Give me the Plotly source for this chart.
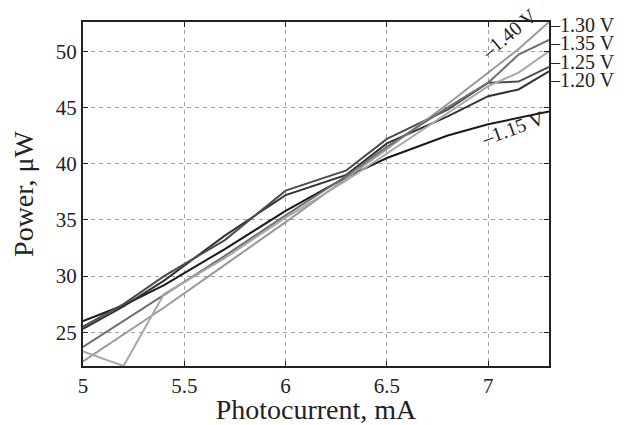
import plotly.graph_objects as go

# Photocurrent (mA) sample points
current = [5.0, 5.2, 5.4, 5.7, 6.0, 6.3, 6.5, 6.8, 7.0, 7.15, 7.3]

# Optical power (uW) for each bias voltage
p_115 = [26.0, 27.4, 29.2, 32.4, 35.8, 38.8, 40.5, 42.5, 43.5, 44.1, 44.65]
p_120 = [25.3, 27.3, 29.6, 33.6, 37.2, 39.0, 41.8, 44.2, 46.0, 46.6, 48.2]
p_125 = [25.5, 27.5, 30.0, 33.2, 37.6, 39.4, 42.2, 44.8, 47.2, 47.3, 48.6]
p_130 = [22.4, 24.8, 27.2, 31.0, 34.8, 38.7, 41.3, 45.3, 48.1, 50.2, 52.6]
p_135 = [23.7, 26.0, 28.3, 31.8, 35.4, 38.9, 41.5, 45.0, 47.2, 49.7, 51.0]
p_140 = [23.3, 22.0, 28.4, 31.6, 35.2, 38.5, 40.9, 44.5, 46.9, 48.1, 50.0]

series_names = ["1.15 V", "1.20 V", "1.25 V", "1.30 V", "1.35 V", "1.40 V"]
series_values = [p_115, p_120, p_125, p_130, p_135, p_140]
series_colors = ["#1a1a1a", "#333333", "#4d4d4d", "#999999", "#6e6e6e", "#a8a8a8"]

x_ticks = [5, 5.5, 6, 6.5, 7]
x_tick_labels = ["5", "5.5", "6", "6.5", "7"]
y_ticks = [25, 30, 35, 40, 45, 50]
y_tick_labels = ["25", "30", "35", "40", "45", "50"]

FONT = "Liberation Serif, Times New Roman, serif"
INK = "#222222"

fig = go.Figure()
for name, vals, col in zip(series_names, series_values, series_colors):
    fig.add_trace(go.Scatter(x=current, y=vals, mode="lines", name=name,
                             line=dict(color=col, width=2), showlegend=False))

# right-side labels with leader dash
right_labels = [("–1.30 V", 52.3), ("–1.35 V", 50.7), ("–1.25 V", 49.0), ("–1.20 V", 47.4)]
for txt, yv in right_labels:
    fig.add_annotation(x=7.3, y=yv, xref="x", yref="y", text=txt, showarrow=False,
                       xanchor="left", yanchor="middle", xshift=-2, height=16,
                       font=dict(family=FONT, size=20, color=INK))

# rotated in-plot labels
fig.add_annotation(x=7.105, y=51.6, xref="x", yref="y", text="–1.40 V", showarrow=False,
                   textangle=-40, font=dict(family=FONT, size=20, color=INK))
fig.add_annotation(x=7.122, y=43.2, xref="x", yref="y", text="–1.15 V", showarrow=False,
                   textangle=-20, font=dict(family=FONT, size=20, color=INK))

axis_common = dict(
    showline=True, linewidth=2, linecolor=INK, mirror="ticks",
    ticks="inside", ticklen=5, tickwidth=1, tickcolor=INK,
    showgrid=True, gridcolor="#a0a0a0", gridwidth=1, griddash="4px,4px",
    zeroline=False, tickfont=dict(family=FONT, size=21, color=INK),
    automargin=False,
)

fig.update_xaxes(range=[5, 7.3], tickvals=x_ticks, ticktext=x_tick_labels,
                 title=dict(text="Photocurrent, mA", font=dict(family=FONT, size=28, color=INK),
                            standoff=7),
                 **axis_common)
fig.update_yaxes(range=[22.0, 52.6], tickvals=y_ticks, ticktext=y_tick_labels,
                 title=dict(text="Power, μW", font=dict(family=FONT, size=28, color=INK),
                            standoff=14),
                 **axis_common)

# page body adds an 8px offset, so the figure is 8px smaller than the window
fig.update_layout(width=626, height=417, plot_bgcolor="white", paper_bgcolor="white",
                  margin=dict(l=75, r=85, t=14, b=59), showlegend=False)

fig.write_html("out.html")
